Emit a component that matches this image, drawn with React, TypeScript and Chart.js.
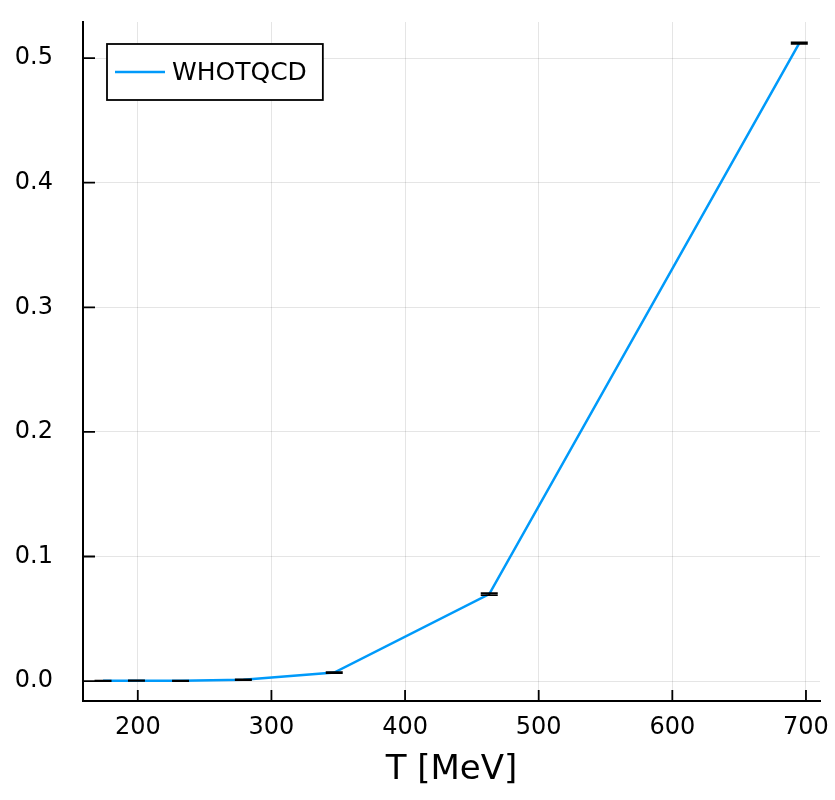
import React, { useEffect, useRef } from "react";
import { Chart, registerables } from "chart.js";

Chart.register(...registerables);

// Temperatures (MeV), values and their uncertainties
const temperatures = [174, 199, 232, 279, 347, 463, 695];
const values = [0.0002, 0.0003, 0.0002, 0.001, 0.0068, 0.0698, 0.512];
const errors = [0.0002, 0.0002, 0.0002, 0.0003, 0.0004, 0.0008, 0.0006];
const seriesLabel = "WHOTQCD";
const xTicks = [200, 300, 400, 500, 600, 700];
const yTicks = [0, 0.1, 0.2, 0.3, 0.4, 0.5];

const FONT = "'DejaVu Sans', sans-serif";
const LINE_COLOR = "rgb(0,154,250)";

// Inward tick marks on both axes
const innerTicks = {
  id: "innerTicks",
  afterDraw(chart: any) {
    const { ctx, chartArea, scales } = chart;
    ctx.save();
    ctx.strokeStyle = "#000";
    ctx.lineWidth = 1.8;
    ctx.beginPath();
    for (const v of xTicks) {
      const x = scales.x.getPixelForValue(v);
      ctx.moveTo(x, chartArea.bottom);
      ctx.lineTo(x, chartArea.bottom - 11);
    }
    for (const v of yTicks) {
      const y = scales.y.getPixelForValue(v);
      ctx.moveTo(chartArea.left, y);
      ctx.lineTo(chartArea.left + 12, y);
    }
    ctx.stroke();
    ctx.restore();
  },
};

// Vertical error bars with caps
const errorBars = {
  id: "errorBars",
  afterDatasetsDraw(chart: any) {
    const { ctx, scales } = chart;
    const half = 8.5;
    ctx.save();
    ctx.strokeStyle = "#000";
    ctx.lineWidth = 1.8;
    ctx.beginPath();
    temperatures.forEach((t, i) => {
      const x = scales.x.getPixelForValue(t);
      const yLo = scales.y.getPixelForValue(values[i] - errors[i]);
      const yHi = scales.y.getPixelForValue(values[i] + errors[i]);
      ctx.moveTo(x, yLo);
      ctx.lineTo(x, yHi);
      ctx.moveTo(x - half, yLo);
      ctx.lineTo(x + half, yLo);
      ctx.moveTo(x - half, yHi);
      ctx.lineTo(x + half, yHi);
    });
    ctx.stroke();
    ctx.restore();
  },
};

// Boxed legend in the upper-left corner of the plot area
const boxLegend = {
  id: "boxLegend",
  afterDraw(chart: any) {
    const { ctx, chartArea } = chart;
    const ds = chart.data.datasets[0];
    ctx.save();
    ctx.font = `25px ${FONT}`;
    const tw = ctx.measureText(ds.label).width;
    const left = chartArea.left + 24;
    const top = chartArea.top + 22;
    const h = 56;
    const w = 8 + 50 + 7 + tw + 16;
    ctx.fillStyle = "#fff";
    ctx.fillRect(left, top, w, h);
    ctx.strokeStyle = "#000";
    ctx.lineWidth = 1.8;
    ctx.strokeRect(left, top, w, h);
    const cy = top + h / 2;
    ctx.strokeStyle = ds.borderColor;
    ctx.lineWidth = 2.5;
    ctx.beginPath();
    ctx.moveTo(left + 8, cy);
    ctx.lineTo(left + 58, cy);
    ctx.stroke();
    ctx.fillStyle = "#000";
    ctx.textBaseline = "middle";
    ctx.textAlign = "left";
    ctx.fillText(ds.label, left + 65, cy + 1);
    ctx.restore();
  },
};

const noScalePadding = (s: any) => {
  s.paddingTop = 0;
  s.paddingBottom = 0;
  s.paddingLeft = 0;
  s.paddingRight = 0;
};

export default function App() {
  const canvasRef = useRef<HTMLCanvasElement | null>(null);

  useEffect(() => {
    if (!canvasRef.current) return;
    const chart = new Chart(canvasRef.current, {
      type: "line",
      data: {
        datasets: [
          {
            label: seriesLabel,
            data: temperatures.map((t, i) => ({ x: t, y: values[i] })),
            borderColor: LINE_COLOR,
            borderWidth: 2.5,
            pointRadius: 0,
            tension: 0,
            fill: false,
          },
        ],
      },
      options: {
        animation: false,
        responsive: true,
        maintainAspectRatio: false,
        layout: { padding: { top: 22, right: 15, left: 0, bottom: 0 } },
        plugins: {
          legend: { display: false },
          tooltip: { enabled: false },
        },
        scales: {
          x: {
            type: "linear",
            min: 159,
            max: 710.5,
            afterFit: (s: any) => {
              s.height = 99;
              noScalePadding(s);
            },
            afterBuildTicks: (s: any) => {
              s.ticks = xTicks.map((v) => ({ value: v }));
            },
            grid: { color: "rgba(0,0,0,0.1)", lineWidth: 1, drawTicks: false },
            border: { display: true, color: "#000", width: 2 },
            ticks: {
              padding: 12,
              color: "#000",
              font: { family: FONT, size: 24 },
              maxRotation: 0,
              callback: (v: any) => String(v),
            },
            title: {
              display: true,
              text: "T [MeV]",
              color: "#000",
              font: { family: FONT, size: 34 },
              padding: { top: 0, bottom: 9 },
            },
          },
          y: {
            type: "linear",
            min: -0.016,
            max: 0.529,
            afterFit: (s: any) => {
              s.width = 83;
              noScalePadding(s);
            },
            afterBuildTicks: (s: any) => {
              s.ticks = yTicks.map((v) => ({ value: v }));
            },
            grid: { color: "rgba(0,0,0,0.1)", lineWidth: 1, drawTicks: false },
            border: { display: true, color: "#000", width: 2 },
            ticks: {
              padding: 30,
              color: "#000",
              font: { family: FONT, size: 24 },
              callback: (v: any) => Number(v).toFixed(1),
            },
          },
        },
      },
      plugins: [errorBars, innerTicks, boxLegend],
    });
    return () => chart.destroy();
  }, []);

  return (
    <div style={{ position: "absolute", left: 0, top: 0, width: 835, height: 800, background: "#fff" }}>
      <canvas ref={canvasRef} />
    </div>
  );
}
